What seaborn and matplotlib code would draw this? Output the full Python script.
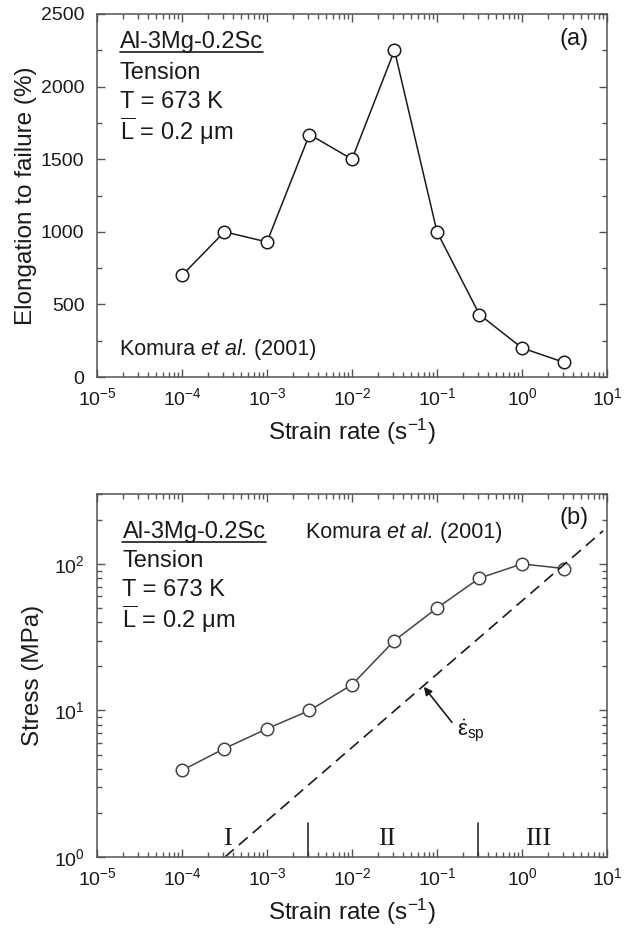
import numpy as np
import pandas as pd
import matplotlib
matplotlib.use("Agg")
import matplotlib.pyplot as plt
import seaborn as sns
from matplotlib.lines import Line2D
from matplotlib import transforms
from matplotlib.ticker import FixedLocator, MultipleLocator, NullFormatter, LogFormatterSciNotation

# ---------------- data ----------------
strain_rate = [1e-4, 3.16e-4, 1e-3, 3.16e-3, 1e-2, 3.16e-2, 1e-1, 3.16e-1, 1.0, 3.16]
elongation = [700, 1000, 930, 1670, 1500, 2250, 1000, 430, 200, 100]
stress = [3.9, 5.5, 7.5, 10, 15, 30, 50, 80, 100, 93]
dash_rate = [3.2e-4, 9.0]
dash_stress = [1.0, 168]
region_bounds = [3e-3, 0.3]
region_labels = ["I", "II", "III"]
region_label_x = [3.4e-4, 2.6e-2, 1.55]
x_major_ticks = [1e-5, 1e-4, 1e-3, 1e-2, 1e-1, 1e0, 1e1]
stress_major_ticks = [1, 10, 100]

df = pd.DataFrame({"rate": strain_rate, "elong": elongation, "stress": stress})
dash_df = pd.DataFrame({"rate": dash_rate, "stress": dash_stress})

sns.set_theme(style="ticks")
plt.rcParams["font.family"] = ["Liberation Sans", "DejaVu Sans"]
plt.rcParams["mathtext.fontset"] = "custom"
plt.rcParams["mathtext.rm"] = "Liberation Sans"
plt.rcParams["mathtext.it"] = "Liberation Sans:italic"
plt.rcParams["mathtext.default"] = "regular"

SPINE = "#555555"
TXT = "#1a1a1a"

fig = plt.figure(figsize=(6.26, 9.32), dpi=100)
W, H = 626, 932
def ax_rect(x0, y0, x1, y1):
    return [x0 / W, 1 - y1 / H, (x1 - x0) / W, (y1 - y0) / H]

axa = fig.add_axes(ax_rect(97, 14, 607, 377))
axb = fig.add_axes(ax_rect(97, 494, 607, 857))

def minor_log(majors):
    return [m * k for m in majors[:-1] for k in range(2, 10)]

def style_axis(ax):
    for s in ax.spines.values():
        s.set_color(SPINE)
        s.set_linewidth(1.1)
    ax.tick_params(which="both", direction="in", top=True, right=True,
                   color=SPINE, labelcolor=TXT, labelsize=14, width=1.0)
    ax.tick_params(which="major", length=6)
    ax.tick_params(axis="x", which="major", pad=7)
    ax.tick_params(axis="y", which="major", pad=9)
    ax.tick_params(which="minor", length=3.5)
    ax.set_xscale("log")
    ax.set_xlim(1e-5, 10)
    ax.xaxis.set_major_locator(FixedLocator(x_major_ticks))
    ax.xaxis.set_major_formatter(LogFormatterSciNotation())
    ax.xaxis.set_minor_locator(FixedLocator(minor_log(x_major_ticks)))
    ax.xaxis.set_minor_formatter(NullFormatter())
    ax.set_xlabel("Strain rate (s$^{-1}$)", fontsize=17.5, color=TXT, labelpad=6)

LINE_KW = dict(lw=1.1, marker="o", markersize=9, markerfacecolor="white", markeredgewidth=1.1)

def komura(ax, x, y, size):
    # "Komura et al. (2001)" with italic "et al." and natural spacing
    parts = [("Komura ", "normal"), ("et al.", "italic"), (" (2001)", "normal")]
    tr = ax.transAxes
    for txt, style in parts:
        t = ax.text(x, y, txt, transform=tr, fontsize=size, color=TXT, va="center",
                    fontstyle=style)
        t.draw(fig.canvas.get_renderer())
        ex = t.get_window_extent(renderer=fig.canvas.get_renderer())
        tr = transforms.offset_copy(t.get_transform(), fig=fig, x=ex.width, units="dots")

# ---------------- panel (a) ----------------
sns.lineplot(data=df, x="rate", y="elong", ax=axa, color="#1a1a1a",
             markeredgecolor="#1a1a1a", **LINE_KW)
style_axis(axa)
axa.set_ylim(0, 2500)
axa.yaxis.set_major_locator(MultipleLocator(500))
axa.yaxis.set_minor_locator(MultipleLocator(250))
axa.set_ylabel("Elongation to failure (%)", fontsize=17.5, color=TXT, labelpad=3)

fs = 17
ta = axa.text(0.045, 0.923, "Al-3Mg-0.2Sc", transform=axa.transAxes, fontsize=fs, color=TXT, va="center")
axa.text(0.045, 0.837, "Tension", transform=axa.transAxes, fontsize=fs, color=TXT, va="center")
axa.text(0.045, 0.758, "T = 673 K", transform=axa.transAxes, fontsize=fs, color=TXT, va="center")
axa.text(0.045, 0.677, r"$\overline{\mathregular{L}}$ = 0.2 $\mathregular{\mu}$m", transform=axa.transAxes,
         fontsize=fs, color=TXT, va="center")
axa.text(0.935, 0.93, "(a)", transform=axa.transAxes, fontsize=17, color=TXT, va="center", ha="center")

# ---------------- panel (b) ----------------
sns.lineplot(data=df, x="rate", y="stress", ax=axb, color="#444444",
             markeredgecolor="#444444", **LINE_KW)
sns.lineplot(data=dash_df, x="rate", y="stress", ax=axb, color="#1a1a1a", lw=1.2,
             linestyle=(0, (7, 4)))
style_axis(axb)
axb.set_yscale("log")
axb.set_ylim(1, 300)
axb.yaxis.set_major_locator(FixedLocator(stress_major_ticks))
axb.yaxis.set_major_formatter(LogFormatterSciNotation())
axb.yaxis.set_minor_locator(FixedLocator(minor_log(stress_major_ticks) + [200, 300]))
axb.yaxis.set_minor_formatter(NullFormatter())
axb.set_ylabel("Stress (MPa)", fontsize=17.5, color=TXT, labelpad=7)

tb = axb.text(0.05, 0.895, "Al-3Mg-0.2Sc", transform=axb.transAxes, fontsize=fs, color=TXT, va="center")
axb.text(0.05, 0.815, "Tension", transform=axb.transAxes, fontsize=fs, color=TXT, va="center")
axb.text(0.05, 0.736, "T = 673 K", transform=axb.transAxes, fontsize=fs, color=TXT, va="center")
axb.text(0.05, 0.656, r"$\overline{\mathregular{L}}$ = 0.2 $\mathregular{\mu}$m", transform=axb.transAxes,
         fontsize=fs, color=TXT, va="center")
axb.text(0.935, 0.935, "(b)", transform=axb.transAxes, fontsize=17, color=TXT, va="center", ha="center")

for xb in region_bounds:
    axb.plot([xb, xb], [1, 1.7], color="#1a1a1a", lw=1.1)
for lab, xl in zip(region_labels, region_label_x):
    axb.text(xl, 1.33, lab, fontsize=19, family="Liberation Serif", color=TXT, ha="center", va="center")

axb.annotate("", xy=(0.07, 14.5), xytext=(0.15, 8.3),
             arrowprops=dict(arrowstyle="-|>", color="#1a1a1a", lw=1.2, mutation_scale=12,
                             shrinkA=0, shrinkB=0))
axb.text(0.17, 7.3, r"$\dot{\mathregular{\varepsilon}}_{\mathregular{sp}}$", fontsize=16, color=TXT,
         ha="left", va="center")

for ax in (axa, axb):
    if ax.get_legend() is not None:
        ax.get_legend().remove()

fig.canvas.draw()
komura(axa, 0.045, 0.076, 15.5)
komura(axb, 0.41, 0.895, 15.5)

# underline the alloy names
fig.canvas.draw()
r = fig.canvas.get_renderer()
inv = fig.transFigure.inverted()
for t in (ta, tb):
    bb = t.get_window_extent(renderer=r)
    (x0, y0), (x1, _) = inv.transform([(bb.x0, bb.y0 + 1), (bb.x1, bb.y0)])
    fig.add_artist(Line2D([x0, x1], [y0, y0], transform=fig.transFigure, color=TXT, lw=1.2))

fig.savefig("out.png", dpi=100)
